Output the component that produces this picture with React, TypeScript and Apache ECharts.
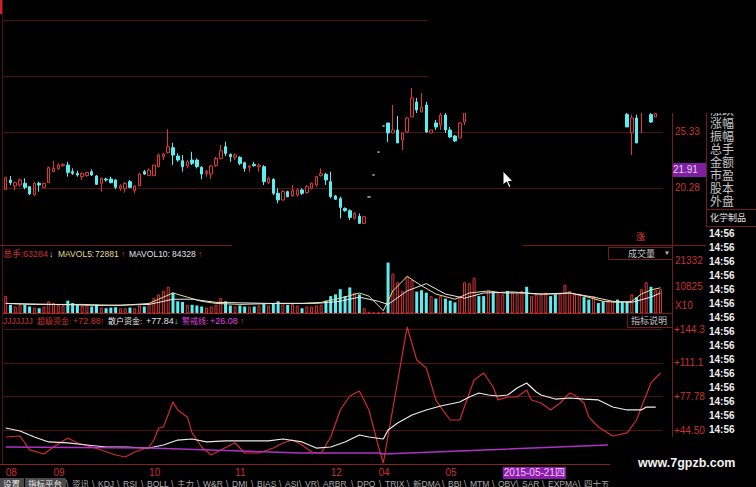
import React, { useEffect, useRef } from 'react';
import * as echarts from 'echarts';

const N = 138;
const categories = Array.from({ length: N }, (_, i) => String(i));
const monthLabels: [number, string][] = [[0, '08'], [10, '09'], [30, '10'], [48, '11'], [68, '12'], [78, '04'], [92, '05'], [104, '2015-05-21四']];

// candles [open, close, low, high]
const candlesAStart = 0;
const candlesA = [
  [20.16, 21.21, 20.10, 21.30], [21.00, 20.76, 20.55, 21.36], [20.46, 20.76, 20.10, 20.85], [20.55, 21.00, 20.40, 21.15],
  [20.70, 20.34, 20.16, 21.15], [20.40, 19.74, 19.65, 20.46], [19.65, 20.70, 19.59, 20.85], [20.70, 20.55, 19.95, 20.85],
  [20.34, 20.70, 20.25, 20.76], [20.76, 22.11, 20.76, 22.20], [21.75, 22.05, 21.75, 22.71], [22.05, 22.35, 21.90, 22.50],
  [22.29, 22.41, 22.20, 22.50], [22.35, 21.69, 21.30, 22.65], [21.75, 21.60, 21.45, 22.05], [21.60, 21.45, 21.30, 21.84],
  [21.30, 21.60, 21.00, 21.69], [21.39, 21.69, 21.30, 21.75], [21.75, 21.45, 21.36, 21.96], [21.36, 20.61, 20.55, 21.45],
  [20.70, 21.15, 19.95, 21.21], [21.09, 21.00, 20.85, 21.21], [21.09, 20.76, 20.70, 21.30], [21.00, 20.34, 20.16, 21.06],
  [20.25, 20.46, 20.04, 20.61], [20.25, 20.70, 19.86, 20.82], [20.85, 20.34, 20.25, 21.00], [20.04, 20.46, 19.80, 20.55],
  [20.46, 21.54, 20.46, 21.66], [21.75, 21.54, 21.45, 21.90], [21.39, 21.90, 21.36, 22.05], [21.39, 22.35, 21.39, 22.35],
  [22.20, 23.25, 22.14, 23.40], [23.10, 23.34, 22.80, 23.46], [23.46, 24.00, 23.40, 25.57], [23.91, 23.25, 22.35, 24.36],
  [23.16, 22.80, 22.65, 23.40], [22.74, 22.20, 21.75, 23.25], [22.26, 22.65, 22.05, 22.80], [22.80, 22.50, 22.35, 23.55],
  [22.80, 22.20, 22.05, 22.95], [22.14, 21.54, 21.06, 22.26], [21.60, 21.75, 21.30, 21.90], [21.54, 22.26, 21.06, 22.35],
  [22.29, 22.95, 22.20, 23.10], [22.95, 23.64, 22.86, 24.16], [24.00, 23.40, 23.16, 24.46], [23.31, 23.10, 22.65, 23.40],
  [23.04, 23.25, 22.80, 23.40], [23.04, 22.50, 22.35, 23.16], [22.56, 22.05, 21.75, 22.65], [22.14, 22.26, 21.75, 22.35],
  [22.41, 22.29, 22.20, 22.65], [22.20, 22.35, 21.75, 22.50], [22.20, 20.85, 20.55, 22.35], [20.76, 21.15, 20.64, 21.30],
  [21.06, 19.80, 19.65, 21.15], [19.80, 19.20, 18.90, 20.25], [19.20, 19.95, 19.14, 20.10], [19.95, 19.50, 19.44, 20.04],
  [19.56, 20.04, 19.50, 20.55], [19.65, 20.10, 19.50, 20.25], [20.10, 19.80, 19.65, 20.25], [19.86, 20.40, 19.74, 20.55],
  [20.25, 20.70, 20.16, 20.76], [20.55, 21.30, 20.40, 21.36], [21.39, 21.60, 21.30, 22.05], [21.51, 21.00, 20.55, 21.66],
  [20.85, 19.50, 19.35, 21.75], [19.56, 19.26, 19.20, 19.65], [19.32, 18.53, 17.54, 19.50], [18.44, 18.23, 18.14, 18.53],
  [18.23, 17.63, 17.39, 18.35], [17.54, 17.99, 17.45, 18.11], [17.75, 17.09, 17.03, 17.99], [17.09, 17.69, 17.03, 17.75],
];
const flatStart = 76;
const flatPrices = [19.47, 21.45, 23.52, 25.87];
const candlesBStart = 80;
const candlesB = [
  [26.14, 25.24, 24.43, 26.14], [25.24, 25.51, 25.24, 27.76], [25.51, 24.34, 24.34, 26.77], [24.61, 25.24, 23.70, 25.24],
  [25.33, 26.59, 25.24, 26.68], [26.68, 28.39, 26.68, 29.30], [28.03, 27.31, 27.04, 28.39], [27.13, 27.58, 27.13, 28.84],
  [27.76, 25.33, 25.24, 28.03], [25.24, 25.51, 25.24, 25.51], [26.14, 25.78, 25.51, 26.41], [25.96, 26.86, 25.51, 27.04],
  [26.86, 25.51, 25.24, 27.04], [25.51, 24.88, 24.79, 25.78], [24.97, 24.52, 24.43, 25.06], [24.79, 26.14, 24.79, 26.23],
  [26.23, 27.04, 25.96, 27.20],
];
const candlesCStart = 130;
const candlesC: (number[] | null)[] = [
  [26.90, 25.78, 25.78, 27.10], [25.24, 26.60, 23.25, 26.90], [26.59, 24.34, 24.34, 26.90], [27.10, 27.30, 25.24, 27.50],
  null, [26.90, 26.23, 26.14, 27.20], [26.68, 27.00, 26.68, 27.20],
];
const lastPrice = 21.91;

// volume (x10 hands) and up flags
const volA = [
  7140, 3640, 2940, 3640, 3640, 2940, 2520, 2240, 2940, 5040,
  4340, 3640, 3360, 5320, 4340, 3640, 3220, 3640, 2940, 3640,
  2520, 2240, 2520, 2660, 2240, 2240, 2520, 2240, 3360, 2940,
  4340, 6440, 7840, 9240, 10920, 8540, 5040, 4760, 3640, 3640,
  3360, 2940, 2520, 2940, 3640, 6440, 5040, 3360, 2940, 3360,
  2940, 2940, 2940, 3360, 3920, 3360, 4340, 5040, 4340, 3640,
  3920, 3360, 2240, 2940, 2940, 3360, 3640, 5320, 7140, 7840,
  9940, 7140, 10640, 8540, 7840, 2240, 840, 560, 560, 840,
];
const volUpA = [
  1, 0, 1, 1, 0, 0, 1, 0, 1, 1, 1, 1, 1, 0, 0, 0, 1, 1, 0, 0,
  1, 0, 0, 0, 1, 1, 0, 1, 1, 0, 1, 1, 1, 1, 1, 0, 0, 0, 1, 0,
  0, 0, 1, 1, 1, 1, 0, 0, 1, 0, 0, 1, 0, 1, 0, 1, 0, 0, 1, 0,
  1, 1, 0, 1, 1, 1, 1, 0, 0, 0, 0, 0, 0, 1, 0, 1, 1, 1, 1, 1,
];
const volB = [
  20700, 16240, 12740, 9240, 15120, 13720, 8960, 9520, 8540, 7140,
  6160, 7140, 6160, 5320, 4620, 6440, 12740, 12320, 14560, 7140,
  7140, 9240, 8540, 8540, 7840, 9240, 8540, 8120, 9240, 10920,
  7140, 7840, 7840, 8540, 7140, 7840, 8120, 11760, 9240, 7840,
  8120, 6720, 5740, 7140, 4340, 5040, 5040, 5040, 5740, 4760,
  4760, 7840, 6720, 9940, 12740, 10920, 9520, 9940,
];
const volUpB = [
  0, 1, 1, 1, 1, 1, 0, 0, 0, 1, 0, 1, 0, 0, 0, 1, 1, 1, 1, 0,
  0, 1, 0, 1, 1, 0, 1, 1, 1, 0, 1, 1, 1, 1, 0, 0, 1, 1, 1, 1,
  1, 0, 0, 1, 0, 0, 1, 1, 0, 0, 0, 1, 0, 1, 1, 0, 1, 1,
];
const mavol5: [number, number][] = [
  [0, 4200], [5, 3780], [16, 3780], [24, 3360], [30, 4200], [32, 5880], [35, 8400], [38, 6720], [41, 5040], [44, 4200],
  [49, 3780], [57, 4200], [62, 4200], [66, 4620], [70, 6300], [74, 8400], [76, 7140], [79, 1260], [81, 9240], [84, 15120],
  [87, 11340], [90, 7980], [94, 5880], [97, 8400], [101, 9240], [104, 8400], [108, 8400], [111, 7980], [115, 7980],
  [118, 8400], [121, 7140], [125, 5040], [128, 4620], [131, 5040], [133, 7980], [135, 9660], [137, 10500],
];
const mavol10: [number, number][] = [
  [0, 4200], [10, 3780], [20, 3360], [30, 3780], [35, 5880], [39, 5880], [44, 4620], [55, 4200], [65, 4200], [70, 5040],
  [74, 6720], [78, 5040], [80, 3780], [84, 9240], [88, 12180], [92, 7980], [96, 6300], [100, 8400], [106, 8820],
  [112, 7980], [118, 8400], [123, 6720], [127, 5040], [131, 4620], [135, 6720], [137, 8400],
];

// indicator lines
const superFund: [number, number][] = [
  [0, 37.9], [3, 38.9], [5, 25.1], [8, 21.1], [10, 28.0], [13, 36.9], [15, 32.0], [18, 28.0], [20, 25.1], [23, 20.1],
  [25, 18.1], [27, 23.1], [30, 28.0], [31, 34.9], [32, 46.8], [33, 47.8], [35, 72.5], [36, 64.6], [38, 57.7], [39, 41.9],
  [41, 28.0], [43, 20.1], [45, 25.1], [47, 30.0], [48, 32.0], [50, 22.1], [53, 22.1], [56, 27.0], [58, 32.0], [60, 34.9],
  [62, 30.0], [64, 23.1], [66, 22.1], [68, 37.9], [70, 64.6], [72, 78.4], [74, 83.4], [76, 64.6], [78, 28.0], [79, 12.2],
  [84, 146.6], [86, 114.0], [88, 106.1], [90, 74.5], [91, 67.5], [93, 54.7], [95, 54.7], [97, 81.4], [98, 94.2],
  [100, 101.1], [102, 87.3], [103, 74.5], [105, 77.4], [107, 77.4], [109, 84.3], [110, 74.5], [112, 71.5], [114, 64.6],
  [116, 71.5], [118, 81.4], [119, 79.4], [121, 71.5], [122, 57.7], [124, 47.8], [125, 44.8], [127, 38.9], [130, 41.9],
  [132, 54.7], [133, 67.5], [135, 91.3], [137, 101.1],
];
const retailFund: [number, number][] = [
  [0, 46.8], [3, 43.8], [6, 37.9], [9, 33.0], [13, 32.0], [17, 30.0], [21, 28.0], [25, 28.0], [30, 27.0], [33, 30.0],
  [36, 34.9], [39, 35.9], [42, 33.0], [46, 34.0], [50, 34.0], [55, 34.0], [58, 35.9], [62, 33.0], [65, 27.0], [68, 28.0],
  [71, 33.0], [74, 39.9], [76, 37.9], [79, 35.9], [80, 44.8], [82, 51.7], [85, 59.6], [88, 64.6], [91, 68.5], [95, 72.5],
  [97, 77.4], [99, 81.4], [101, 79.4], [103, 78.4], [105, 79.4], [107, 86.3], [109, 91.3], [111, 82.4], [112, 79.4],
  [115, 75.4], [118, 76.4], [121, 75.4], [124, 74.5], [127, 67.5], [130, 64.6], [133, 64.6], [134, 67.5], [136, 67.5],
];
const warnLine: [number, number][] = [[0, 28.0], [30, 27.0], [62, 22.1], [78, 22.1], [79, 21.1], [126, 30.0]];

const tabNames = ['设置', '指标平台', '资讯', 'KDJ', 'RSI', 'BOLL', '主力', 'W&R', 'DMI', 'BIAS', 'ASI', 'VR', 'ARBR', 'DPO', 'TRIX', '新DMA', 'BBI', 'MTM', 'OBV', 'SAR', 'EXPMA', '四十五'];
const tabX = [3, 28, 72, 98, 123, 147, 177, 203, 232, 257, 285, 305, 323, 357, 385, 413, 448, 470, 498, 522, 548, 584];
const sideLabels = ['涨幅', '振幅', '总手', '金额', '市盈', '股本', '外盘'];

const FONT = '"Liberation Sans", "Noto Sans CJK SC", sans-serif';
const RED = '#c83232';
const DIM = '#4e1414';
const FRAME = '#741c1c';
const CYAN = '#58eef2';
const WHITE = '#e4e4e4';
const MAG = '#e040e0';
const GRAY = '#c4c4c4';

function txt(x: number, y: number, text: string, fill: string, size = 9, extra: any = {}, z = 110) {
  return { type: 'text', x, y, z, style: { text, fill, fontSize: size, fontFamily: FONT, verticalAlign: 'middle', align: 'left', ...extra } };
}
function ln(x1: number, y1: number, x2: number, y2: number, stroke: string, z = 105) {
  return { type: 'line', z, shape: { x1, y1, x2, y2 }, style: { stroke, lineWidth: 1 } };
}

export default function App() {
  const ref = useRef<HTMLDivElement>(null);
  useEffect(() => {
    document.body.style.margin = '0';
    document.body.style.background = '#000';
    const chart = echarts.init(ref.current!, null, { renderer: 'svg' });

    const candleData: any[] = categories.map(() => ['-', '-', '-', '-']);
    candlesA.forEach((c, k) => { candleData[candlesAStart + k] = c; });
    flatPrices.forEach((p, k) => {
      candleData[flatStart + k] = { value: [p, p, p, p], itemStyle: { color: '#b8b8b8', color0: '#b8b8b8', borderColor: '#b8b8b8', borderColor0: '#b8b8b8' } };
    });
    candlesB.forEach((c, k) => { candleData[candlesBStart + k] = c; });
    candlesC.forEach((c, k) => { if (c) candleData[candlesCStart + k] = c; });

    const vols = volA.concat(volB);
    const ups = volUpA.concat(volUpB);
    const volData = vols.map((v, i) => ({
      value: v,
      itemStyle: ups[i] ? { color: '#000', borderColor: '#d83434', borderWidth: 1 } : { color: CYAN, borderColor: CYAN, borderWidth: 0 },
    }));

    const labelMap: Record<number, string> = {};
    monthLabels.forEach(([i, t]) => { labelMap[i] = t; });

    const grids = [
      { left: 3.3, top: 0, width: 659.6, height: 244 },
      { left: 3.3, top: 245, width: 659.6, height: 68 },
      { left: 3.3, top: 313, width: 659.6, height: 151 },
    ].map((g) => ({ ...g, containLabel: false, outerBoundsMode: 'none' }));

    const baseX = (gi: number) => ({
      type: 'category', gridIndex: gi, data: categories, boundaryGap: true,
      axisLine: { show: false }, axisTick: { show: false }, axisLabel: { show: false }, splitLine: { show: false },
    });

    const graphic: any[] = [
      { type: 'rect', z: 1, shape: { x: 0, y: 0, width: 2, height: 14 }, style: { fill: '#d02020' } },
      ln(2.5, 0, 2.5, 464, DIM),
      ln(0, 245.5, 232, 245.5, FRAME),
      ln(523, 245.5, 706, 245.5, FRAME),
      ln(0, 464.5, 610, 464.5, '#8a2020'),
      ln(672.5, 113, 672.5, 437, FRAME),
      ln(706.5, 113, 706.5, 227, FRAME),
      ln(706, 209.5, 756, 209.5, FRAME),
      ln(706, 226.5, 756, 226.5, FRAME),
      // overlay window covering the top right
      { type: 'rect', z: 100, shape: { x: 428, y: 0, width: 328, height: 113 }, style: { fill: '#000' } },
      // current price tag background (below the series label)
      { type: 'rect', z: 0, zlevel: 0, shape: { x: 672, y: 163, width: 35, height: 14 }, style: { fill: '#7c1fa0' } },
      txt(710, 111, '涨跌', GRAY, 12, {}, 90),
      ...sideLabels.map((s, k) => txt(710, 124 + k * 13, s, GRAY, 12)),
      txt(710, 218, '化学制品', '#e8e8e8', 9),
      ...Array.from({ length: 15 }, (_, k) => txt(709, 233 + k * 14, '14:56', '#f0f0f0', 10, { fontWeight: 'bold' })),
      // volume header
      txt(3, 254, '总手:', RED),
      txt(23, 254, '63284', RED),
      txt(49, 254, '↓', CYAN),
      txt(58, 254, 'MAVOL5:', '#e0dc98', 8.5),
      txt(95, 254, '72881', '#e0dc98', 8.5),
      txt(121, 254, '↑', RED),
      txt(129, 254, 'MAVOL10:', WHITE, 8.5),
      txt(172, 254, '84328', WHITE, 8.5),
      txt(198, 254, '↑', RED),
      txt(636, 237, '涨', '#e84040', 9),
      { type: 'rect', z: 105, shape: { x: 608.5, y: 247.5, width: 64, height: 12 }, style: { fill: '#000', stroke: FRAME } },
      txt(628, 253.5, '成交量', GRAY, 9),
      txt(664, 253, '▼', GRAY, 6),
      // indicator header
      txt(3, 321, 'JJJJJJJ', RED, 8.5),
      txt(37, 321, '超级资金:', RED, 8),
      txt(73, 321, '+72.88', RED),
      txt(100, 321, '↑', RED),
      txt(108, 321, '散户资金:', WHITE, 8),
      txt(146, 321, '+77.84', WHITE),
      txt(174, 321, '↓', CYAN),
      txt(182, 321, '警戒线:', MAG, 8),
      txt(210, 321, '+26.08', MAG),
      txt(240, 321, '↑', RED),
      { type: 'rect', z: 105, shape: { x: 627.5, y: 313.5, width: 45, height: 14 }, style: { fill: '#000', stroke: FRAME } },
      txt(631, 320.5, '指标说明', GRAY, 9),
      txt(638, 463, 'www.7gpzb.com', '#f2f2f2', 12.5, { fontWeight: 'bold' }),
      // tabs
      { type: 'rect', z: 104, shape: { x: 0, y: 478, width: 24, height: 9 }, style: { fill: '#4a4a4a' } },
      { type: 'rect', z: 104, shape: { x: 25, y: 478, width: 41, height: 9 }, style: { fill: '#4a4a4a' } },
      ...tabNames.map((s, k) => txt(tabX[k], 483.5, s, k < 2 ? '#e8e8e8' : '#aaaaaa', 8.5)),
      ...tabNames.slice(2).map((_, k) => txt(tabX[k + 2] - 6, 483.5, '\\', '#aaaaaa', 8.5)),
      // mouse cursor
      {
        type: 'polygon', z: 120,
        shape: { points: [[503, 171], [503, 185], [506.5, 182], [509, 187.5], [511, 186.5], [508.5, 181.5], [513, 181.5]] },
        style: { fill: '#fff', stroke: '#000', lineWidth: 1 },
      },
    ];

    chart.setOption({
      animation: false,
      backgroundColor: '#000',
      grid: grids,
      xAxis: [
        baseX(0),
        { ...baseX(1), axisLine: { show: true, lineStyle: { color: '#9a2222' } } },
        {
          ...baseX(2),
          axisLabel: {
            show: true, interval: 0, color: RED, fontSize: 10, fontFamily: FONT, margin: 3, align: 'left',
            formatter: (_v: string, idx: number) => {
              const t = labelMap[idx];
              if (!t) return '';
              return t.length > 2 ? '{d|' + t + '}' : t;
            },
            rich: { d: { backgroundColor: '#8c1cb0', color: '#f4c8f4', fontSize: 10, fontFamily: FONT, padding: [1, 1, 1, 1] } },
          },
        },
      ],
      yAxis: [
        {
          type: 'value', gridIndex: 0, position: 'right', min: 15.23, max: 37.23, interval: 5.05,
          axisLine: { show: false }, axisTick: { show: false },
          axisLabel: { color: RED, fontSize: 10, fontFamily: FONT, margin: 12, align: 'left', formatter: (v: number) => (v > 18 && v < 27 ? v.toFixed(2) : '') },
          splitLine: { show: true, lineStyle: { color: ['rgba(0,0,0,0)', DIM, DIM, DIM, DIM], width: 1 } },
        },
        {
          type: 'value', gridIndex: 1, position: 'right', min: 318, max: 27793, interval: 10507,
          axisLine: { show: false }, axisTick: { show: false }, splitLine: { show: false },
          axisLabel: {
            color: RED, fontSize: 10, fontFamily: FONT, margin: 12, align: 'left', showMinLabel: true, showMaxLabel: false,
            formatter: (v: number) => (v < 1000 ? '{x|X10}' : v > 25000 ? '' : String(Math.round(v))),
            rich: { x: { color: RED, fontSize: 10, fontFamily: FONT, padding: [0, 0, 16, 0] } },
          },
        },
        {
          type: 'value', gridIndex: 2, position: 'right', min: 11.22, max: 160.4, interval: 33.28,
          axisLine: { show: false }, axisTick: { show: false },
          axisLabel: { color: RED, fontSize: 10, fontFamily: FONT, margin: 11, align: 'left', formatter: (v: number) => (v > 20 && v < 150 ? '+' + v.toPrecision(4) : '') },
          splitLine: { show: true, lineStyle: { color: ['rgba(0,0,0,0)', DIM, DIM, DIM, DIM], width: 1 } },
        },
      ],
      series: [
        {
          type: 'candlestick', xAxisIndex: 0, yAxisIndex: 0, barWidth: 3, data: candleData,
          itemStyle: { color: '#000', color0: CYAN, borderColor: '#e03838', borderColor0: CYAN, borderWidth: 1 },
          markLine: {
            silent: true, symbol: ['none', 'none'], data: [{ yAxis: lastPrice }], z: 10,
            lineStyle: { color: 'rgba(0,0,0,0)', width: 1, type: 'solid' },
            label: { show: true, position: 'end', distance: 10, formatter: lastPrice.toFixed(2), color: '#e6d0f6', fontSize: 10, fontFamily: FONT },
          },
        },
        { type: 'bar', xAxisIndex: 1, yAxisIndex: 1, barWidth: 3, data: volData },
        { type: 'line', xAxisIndex: 1, yAxisIndex: 1, data: mavol5, showSymbol: false, lineStyle: { color: '#e4dc96', width: 1 } },
        { type: 'line', xAxisIndex: 1, yAxisIndex: 1, data: mavol10, showSymbol: false, lineStyle: { color: '#e8e8e8', width: 1 } },
        { type: 'line', xAxisIndex: 2, yAxisIndex: 2, data: superFund, showSymbol: false, lineStyle: { color: '#d02c2c', width: 1.2 } },
        { type: 'line', xAxisIndex: 2, yAxisIndex: 2, data: retailFund, showSymbol: false, lineStyle: { color: '#ececec', width: 1.2 } },
        { type: 'line', xAxisIndex: 2, yAxisIndex: 2, data: warnLine, showSymbol: false, lineStyle: { color: '#b030c8', width: 1.5 } },
      ],
      graphic,
    } as any);

    return () => chart.dispose();
  }, []);
  return <div ref={ref} style={{ width: 756, height: 487, background: '#000' }} />;
}
